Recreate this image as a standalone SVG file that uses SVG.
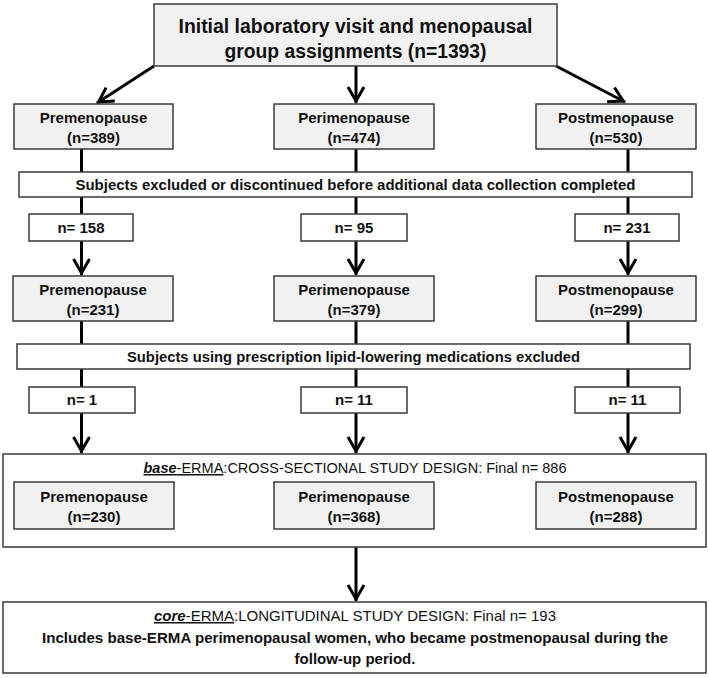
<svg xmlns="http://www.w3.org/2000/svg" width="709" height="678" viewBox="0 0 709 678">
<style>
.box{fill:#ffffff;stroke:#3a3a3a;stroke-width:1.5}
.g{fill:#f1f1f1}
.t{font-family:"Liberation Sans",Arial,sans-serif;fill:#111;text-anchor:middle}
.b15{font-size:15px;font-weight:bold}
.r15{font-size:15px;font-weight:normal}
.top{font-size:19.5px;font-weight:bold}
.ln{stroke:#000;stroke-width:3;fill:none}
.ar{stroke:#000;stroke-width:3;fill:none;marker-end:url(#ah)}
</style>
<defs>
<marker id="ah" viewBox="-18 -10 20 20" refX="0" refY="0" markerWidth="20" markerHeight="20" markerUnits="userSpaceOnUse" orient="auto">
<path d="M-16,-8 L-2,0 L-16,8" fill="none" stroke="#000" stroke-width="3"/>
</marker>
</defs>
<rect width="709" height="678" fill="#ffffff"/>
<g id="connectors">
<path class="ar" d="M154,66 L97,103"/>
<path class="ar" d="M356,66 L356,103"/>
<path class="ar" d="M556,66 L625,102"/>
<path class="ln" d="M81.5,149 L81.5,214"/>
<path class="ln" d="M356,149 L356,214"/>
<path class="ln" d="M628,149 L628,214"/>
<path class="ar" d="M81.5,241 L81.5,275"/>
<path class="ar" d="M356,241 L356,275"/>
<path class="ar" d="M628,241 L628,275"/>
<path class="ln" d="M81.5,321 L81.5,387"/>
<path class="ln" d="M356,321 L356,387"/>
<path class="ln" d="M628,321 L628,387"/>
<path class="ar" d="M81.5,413 L81.5,453"/>
<path class="ar" d="M356,413 L356,453"/>
<path class="ar" d="M628,413 L628,453"/>
<path class="ar" d="M356,529 L356,601"/>
</g>
<g id="initial">
<rect class="box g" x="154" y="4" width="403" height="62"/>
<text class="t top" x="355.5" y="33" textLength="354" lengthAdjust="spacingAndGlyphs">Initial laboratory visit and menopausal</text>
<text class="t top" x="355.5" y="58" textLength="262" lengthAdjust="spacingAndGlyphs">group assignments (n=1393)</text>
</g>
<g id="pre1">
<rect class="box g" x="14" y="104" width="159" height="45"/>
<text class="t b15" x="93.5" y="123">Premenopause</text>
<text class="t b15" x="93.5" y="143">(n=389)</text>
</g>
<g id="peri1">
<rect class="box g" x="274" y="104" width="160" height="45"/>
<text class="t b15" x="354" y="123">Perimenopause</text>
<text class="t b15" x="354" y="143">(n=474)</text>
</g>
<g id="post1">
<rect class="box g" x="536" y="104" width="160" height="45"/>
<text class="t b15" x="616" y="123">Postmenopause</text>
<text class="t b15" x="616" y="143">(n=530)</text>
</g>
<g id="excluded1">
<rect class="box" x="19" y="172" width="673" height="25"/>
<text class="t b15" x="355.5" y="190" textLength="560" lengthAdjust="spacingAndGlyphs">Subjects excluded or discontinued before additional data collection completed</text>
</g>
<g id="n158">
<rect class="box" x="29" y="214" width="104" height="27"/>
<text class="t b15" x="81" y="233">n= 158</text>
</g>
<g id="n95">
<rect class="box" x="301" y="214" width="106" height="27"/>
<text class="t b15" x="354" y="233">n= 95</text>
</g>
<g id="n231">
<rect class="box" x="575" y="214" width="104" height="27"/>
<text class="t b15" x="627" y="233">n= 231</text>
</g>
<g id="pre2">
<rect class="box g" x="13" y="276" width="160" height="45"/>
<text class="t b15" x="93" y="295">Premenopause</text>
<text class="t b15" x="93" y="315">(n=231)</text>
</g>
<g id="peri2">
<rect class="box g" x="274" y="276" width="160" height="45"/>
<text class="t b15" x="354" y="295">Perimenopause</text>
<text class="t b15" x="354" y="315">(n=379)</text>
</g>
<g id="post2">
<rect class="box g" x="536" y="276" width="160" height="45"/>
<text class="t b15" x="616" y="295">Postmenopause</text>
<text class="t b15" x="616" y="315">(n=299)</text>
</g>
<g id="excluded2">
<rect class="box" x="17" y="344" width="673" height="25"/>
<text class="t b15" x="353.5" y="362" textLength="453" lengthAdjust="spacingAndGlyphs">Subjects using prescription lipid-lowering medications excluded</text>
</g>
<g id="n1">
<rect class="box" x="29" y="387" width="106" height="26"/>
<text class="t b15" x="82" y="405">n= 1</text>
</g>
<g id="n11a">
<rect class="box" x="301" y="387" width="106" height="26"/>
<text class="t b15" x="354" y="405">n= 11</text>
</g>
<g id="n11b">
<rect class="box" x="575" y="387" width="105" height="26"/>
<text class="t b15" x="627.5" y="405">n= 11</text>
</g>
<g id="base-erma">
<rect class="box" x="3" y="454" width="703" height="93"/>
<text class="t r15" x="355" y="473" textLength="423" lengthAdjust="spacingAndGlyphs"><tspan font-style="italic" font-weight="bold" text-decoration="underline">base</tspan><tspan text-decoration="underline">-ERMA</tspan>:CROSS-SECTIONAL STUDY DESIGN: Final n= 886</text>
</g>
<g id="pre3">
<rect class="box g" x="14" y="482" width="160" height="47"/>
<text class="t b15" x="94" y="502">Premenopause</text>
<text class="t b15" x="94" y="522">(n=230)</text>
</g>
<g id="peri3">
<rect class="box g" x="274" y="482" width="160" height="47"/>
<text class="t b15" x="354" y="502">Perimenopause</text>
<text class="t b15" x="354" y="522">(n=368)</text>
</g>
<g id="post3">
<rect class="box g" x="536" y="482" width="160" height="47"/>
<text class="t b15" x="616" y="502">Postmenopause</text>
<text class="t b15" x="616" y="522">(n=288)</text>
</g>
<g id="core-erma">
<rect class="box" x="3" y="602" width="703" height="71"/>
<text class="t r15" x="355" y="621" textLength="402" lengthAdjust="spacingAndGlyphs"><tspan font-style="italic" font-weight="bold" text-decoration="underline">core</tspan><tspan text-decoration="underline">-ERMA</tspan>:LONGITUDINAL STUDY DESIGN: Final n= 193</text>
<text class="t b15" x="355" y="643" textLength="626" lengthAdjust="spacingAndGlyphs">Includes base-ERMA perimenopausal women, who became postmenopausal during the</text>
<text class="t b15" x="355" y="664">follow-up period.</text>
</g>
</svg>
